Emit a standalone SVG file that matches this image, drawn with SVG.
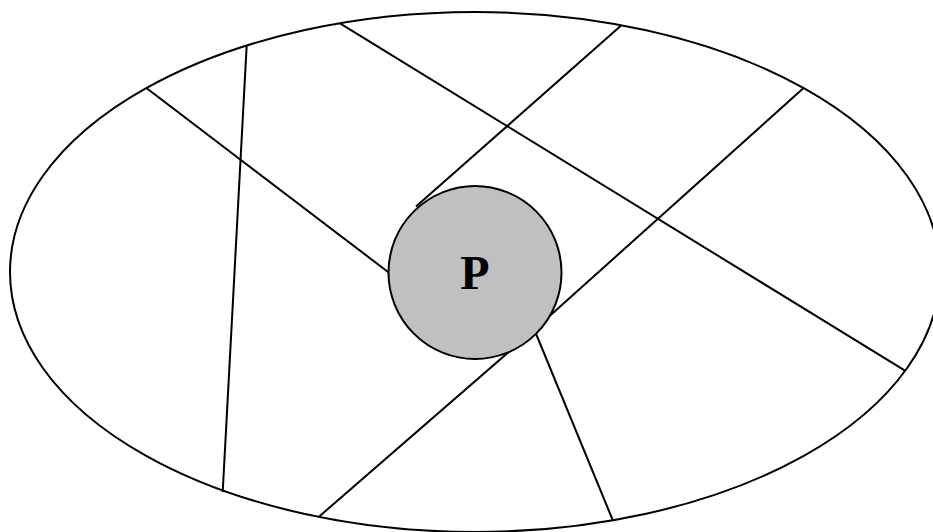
<svg xmlns="http://www.w3.org/2000/svg" width="933" height="532" viewBox="0 0 933 532">
<style>
.l{stroke:#000;stroke-width:2;fill:none}
.t{font-family:"Liberation Serif",serif;font-weight:bold;font-size:48px;fill:#000}
</style>
<rect width="933" height="532" fill="#fff"/>
<g id="region">
<ellipse cx="475" cy="272" rx="465" ry="260" class="l"/>
</g>
<g id="connectors">
<line class="l" x1="146.7" y1="88.3" x2="392" y2="275"/>
<line class="l" x1="246.7" y1="45" x2="222.7" y2="492"/>
<line class="l" x1="340" y1="23.3" x2="905" y2="370.7"/>
<line class="l" x1="621.7" y1="25" x2="416" y2="206.5"/>
<polyline class="l" points="803.3,88.3 534,330 318.3,517.3"/>
<line class="l" x1="532" y1="324" x2="612.7" y2="520"/>
</g>
<g id="P">
<circle cx="475" cy="272.5" r="86.5" fill="#c0c0c0" stroke="#000" stroke-width="2"/>
<text class="t" x="475" y="289.3" text-anchor="middle">P</text>
</g>
</svg>
